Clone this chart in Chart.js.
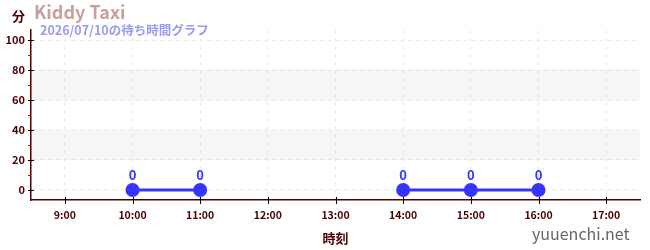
<!DOCTYPE html>
<html><head><meta charset="utf-8">
<script src="https://cdn.jsdelivr.net/npm/chart.js@4"></script>
<style>
html,body{margin:0;padding:0;background:#fff;}
#wrap{position:relative;width:650px;height:250px;font-family:"Noto Sans CJK JP","Noto Sans",sans-serif;}
canvas{position:absolute;left:0;top:0;}
.t{position:absolute;white-space:nowrap;font-weight:bold;line-height:1;}
</style></head><body>
<div id="wrap">
<canvas id="c" width="650" height="250"></canvas>
<div class="t" style="left:12px;top:9px;font-size:13px;color:#4a0000;">分</div>
<div class="t" style="left:34px;top:2px;font-size:18px;color:#c9a0a0;">Kiddy Taxi</div>
<div class="t" style="left:40px;top:24px;font-size:12.5px;color:#9a9af0;">2026/07/10の待ち時間グラフ</div>
<div class="t" style="left:532px;top:225px;font-size:16px;color:#666;font-weight:normal;">yuuenchi.net</div>
</div>
<script>
const hours = [10, 11, 12, 13, 14, 15, 16];
const waits = [0, 0, null, null, 0, 0, 0];
const xTickHours = [9, 10, 11, 12, 13, 14, 15, 16, 17];
const yTicks = [0, 20, 40, 60, 80, 100];
const yMinorTicks = [10, 30, 50, 70, 90];
const bands = [[20, 40], [60, 80]];

const maroon = '#4a0000';
const lineColor = '#3535ff';

const decor = {
  id: 'decor',
  beforeDatasetsDraw(chart) {
    const {ctx, chartArea: a, scales: {x, y}} = chart;
    ctx.save();
    ctx.fillStyle = 'rgba(0,0,0,0.035)';
    bands.forEach(([lo, hi]) => {
      const y1 = y.getPixelForValue(hi), y2 = y.getPixelForValue(lo);
      ctx.fillRect(a.left, y1, a.right - a.left, y2 - y1);
    });
    ctx.restore();
  },
  afterDraw(chart) {
    const {ctx, chartArea: a, scales: {x, y}} = chart;
    ctx.save();
    // minor y ticks
    ctx.strokeStyle = '#d00000';
    ctx.lineWidth = 1;
    yMinorTicks.forEach(v => {
      const py = Math.round(y.getPixelForValue(v)) + 0.5;
      ctx.beginPath(); ctx.moveTo(a.left - 3, py); ctx.lineTo(a.left, py); ctx.stroke();
    });
    // major y ticks crossing axis
    ctx.strokeStyle = '#000';
    yTicks.forEach(v => {
      const py = Math.round(y.getPixelForValue(v)) + 0.5;
      ctx.beginPath(); ctx.moveTo(a.left - 3, py); ctx.lineTo(a.left + 3, py); ctx.stroke();
    });
    xTickHours.forEach(v => {
      const px = Math.round(x.getPixelForValue(v)) + 0.5;
      ctx.beginPath(); ctx.moveTo(px, a.bottom - 3); ctx.lineTo(px, a.bottom + 4); ctx.stroke();
    });
    // value labels
    ctx.fillStyle = lineColor;
    ctx.font = 'bold 13px "Noto Sans CJK JP", "Noto Sans", sans-serif';
    ctx.textAlign = 'center';
    ctx.textBaseline = 'middle';
    const meta = chart.getDatasetMeta(0);
    meta.data.forEach((pt, i) => {
      if (waits[i] === null) return;
      ctx.fillText(String(waits[i]), pt.x, pt.y - 15);
    });
    ctx.restore();
  }
};

new Chart(document.getElementById('c'), {
  type: 'line',
  data: {
    datasets: [{
      data: hours.map((h, i) => ({x: h, y: waits[i]})),
      borderColor: lineColor,
      backgroundColor: lineColor,
      borderWidth: 3,
      pointRadius: 5.5,
      pointHoverRadius: 5.5,
      spanGaps: false,
      fill: false
    }]
  },
  options: {
    responsive: false,
    animation: false,
    events: [],
    layout: {padding: {top: 30, right: 10, left: 0, bottom: 0}},
    plugins: {legend: {display: false}, tooltip: {enabled: false}, title: {display: false}},
    scales: {
      x: {
        type: 'linear',
        min: 8.5, max: 17.5,
        afterBuildTicks: s => { s.ticks = xTickHours.map(v => ({value: v})); },
        afterFit: s => { s.height = 50; },
        grid: {color: '#ebebeb', tickLength: 4, drawTicks: false},
        border: {color: maroon, width: 1.5, dash: [4, 4]},
        ticks: {
          padding: 9,
          color: maroon,
          font: {family: '"Noto Sans CJK JP"', size: 10.5, weight: 'bold'},
          callback: v => v + ':00', maxRotation: 0
        },
        title: {display: true, text: '時刻', color: maroon, padding: {top: 4},
          font: {family: '"Noto Sans CJK JP"', size: 13, weight: 'bold'}}
      },
      y: {
        min: -6.67, max: 106.67,
        afterBuildTicks: s => { s.ticks = yTicks.map(v => ({value: v})); },
        afterFit: s => { s.width = 31; },
        grid: {color: '#ebebeb', drawTicks: false},
        border: {color: maroon, width: 1.5, dash: [4, 4]},
        ticks: {
          padding: 6,
          color: maroon,
          font: {family: '"Noto Sans CJK JP"', size: 11, weight: 'bold'}
        }
      }
    }
  },
  plugins: [decor]
});
</script>
</body></html>
